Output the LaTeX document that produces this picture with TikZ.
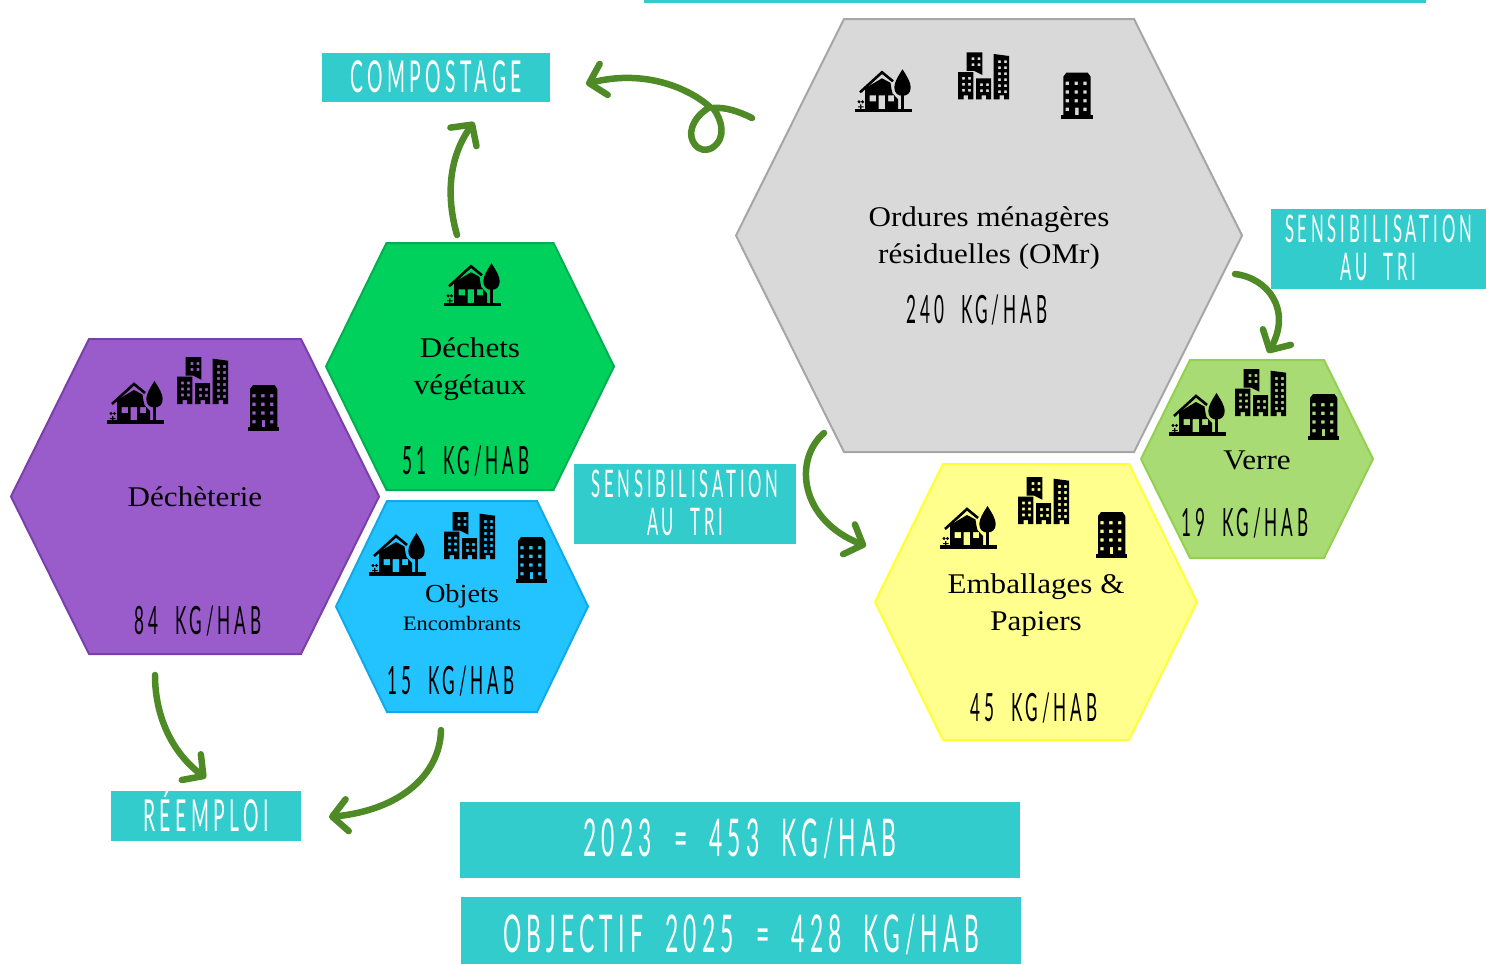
\documentclass[tikz,border=0pt]{standalone}
\usepackage{fontspec}
\setmainfont{Liberation Serif}[FakeStretch=1.09]
\newfontfamily\handfont[FakeStretch=0.44,LetterSpace=10,WordSpace=2]{Lato}
\usetikzlibrary{arrows.meta}
\definecolor{tealbox}{HTML}{33CCCC}
\definecolor{arrowgreen}{HTML}{4E8A26}
\newcommand{\lift}[2]{\raisebox{#1}[\height][\depth]{#2}}
% style, name, x, y, width, height, slant
\newcommand{\hexcell}[7]{
  \node[hexbase, minimum width=#5pt, minimum height=#6pt] at (#3,#4) (#2) {};
  \draw[#1] (#2.west) -- ([xshift=#7pt]#2.north west) -- ([xshift=-#7pt]#2.north east) -- (#2.east) -- ([xshift=-#7pt]#2.south east) -- ([xshift=#7pt]#2.south west) -- cycle;
}
\tikzset{
    hexbase/.style = {rectangle, inner sep=0pt, outer sep=0pt},
    hexcolor/.style = {line width=2pt, line join=miter},
    hexgrey/.style = {hexcolor, fill={rgb,255:red,217;green,217;blue,217}, draw={rgb,255:red,166;green,166;blue,166}},
    hexgreen/.style = {hexcolor, fill={rgb,255:red,0;green,208;blue,92}, draw={rgb,255:red,0;green,176;blue,80}},
    hexpurple/.style = {hexcolor, fill={rgb,255:red,155;green,92;blue,203}, draw={rgb,255:red,122;green,63;blue,168}},
    hexblue/.style = {hexcolor, fill={rgb,255:red,34;green,195;blue,255}, draw={rgb,255:red,16;green,170;blue,232}},
    hexyellow/.style = {hexcolor, fill={rgb,255:red,255;green,255;blue,141}, draw={rgb,255:red,255;green,255;blue,51}},
    hexlime/.style = {hexcolor, fill={rgb,255:red,169;green,219;blue,116}, draw={rgb,255:red,146;green,208;blue,80}},
    tealcell/.style = {rectangle, fill=tealbox, inner sep=0pt, align=center, text=white, font=\handfont\fontsize{38}{38}\selectfont},
    wastename/.style = {align=center, inner sep=0pt, font=\fontsize{28.5}{37.5}\selectfont},
    weight/.style = {inner sep=0pt, font=\handfont\fontsize{39}{40}\selectfont},
    edgegreen/.style = {line width=6.5pt, arrowgreen, line cap=round, line join=round, -{Straight Barb[length=15pt,width=32pt,line width=6.5pt,round]}},
    housepic/.pic = {
        \fill (0,-3.7) rectangle (57,0);
        \fill[even odd rule] (10,-3) -- (10,-24) -- (27,-34) -- (35.5,-29.5) -- (36.5,-23) -- (37.5,-19) -- (43,-13) -- (43,-3) -- cycle
            (14.5,-17) rectangle (21,-11) (23.5,-17) rectangle (30,-3) (33,-17) rectangle (39,-11);
        \draw[line width=2.6pt] (5,-20) -- (27,-40) -- (38,-31);
        \fill (47.5,-43) .. controls (43,-36) and (39.3,-30) .. (39.3,-25) .. controls (39.3,-19) and (43,-16.5) .. (47.5,-16.5) .. controls (52,-16.5) and (55.7,-19) .. (55.7,-25) .. controls (55.7,-30) and (52,-36) .. (47.5,-43) -- cycle;
        \fill (46,-17) rectangle (49,-3);
        \fill (4,-10.5) circle (1.7pt) (7.5,-10.5) circle (1.7pt) (5.2,-8) rectangle (6.3,-3) (3,-6) rectangle (8.5,-5);
    },
    citypic/.pic = {
        \fill[even odd rule] (0,-27.3) -- (15.3,-27.3) -- (15.3,0) -- (10,0) -- (10,-4) -- (5.5,-4) -- (5.5,0) -- (0,0) -- cycle
            \foreach \i in {0,1} \foreach \j in {0,1,2} {(4+6*\i,-22.5+6*\j) rectangle +(2.8,2.8)};
        \fill[even odd rule] (18,-21) -- (33,-21) -- (33,0) -- (28,0) -- (28,-4) -- (23.5,-4) -- (23.5,0) -- (18,0) -- cycle
            \foreach \i in {0,1} \foreach \j in {0,1} {(22+6*\i,-16+6*\j) rectangle +(2.8,2.8)};
        \fill[even odd rule] (35.7,-45.3) -- (51,-43.3) -- (51,0) -- (46,0) -- (46,-4) -- (41.5,-4) -- (41.5,0) -- (35.7,0) -- cycle
            \foreach \i in {0,1} \foreach \j in {0,...,5} {(40+6*\i,-39+6*\j) rectangle +(2.8,2.8)};
        \fill[even odd rule] (8.7,-47) -- (24.3,-47) -- (24.3,-24.3) -- (16,-28.5) -- (8.7,-28.5) -- cycle
            \foreach \i in {0,1} \foreach \j in {0,1} {(13.5+6*\i,-42+6*\j) rectangle +(2.8,2.8)};
    },
    blockpic/.pic = {
        \fill (0,-3.7) rectangle (31.3,0);
        \fill[even odd rule] (2,-3) -- (2,-42) -- (5,-46) -- (26.5,-46) -- (29.3,-42) -- (29.3,-3) -- cycle
            \foreach \i in {0,1,2} \foreach \j in {0,1,2} {(4.4+8.8*\i,-37+8.7*\j) rectangle +(3.3,3.3)}
            (4.4,-11) rectangle +(3.3,3.3) (22,-11) rectangle +(3.3,3.3) (13.9,-11) rectangle (17.2,-3);
    }
}

\begin{document}
\begin{tikzpicture}[x=1pt,y=-1pt]
\useasboundingbox (0,0) rectangle (1486,964);
%
\node[tealcell, minimum width=782pt, minimum height=3pt] at (1035,1.5) (topstrip) {};
%
\hexcell{hexgrey}{omr}{989}{235.5}{506}{433}{108}
\hexcell{hexgreen}{vert}{470}{366.5}{288}{247}{60.5}
\hexcell{hexpurple}{dech}{195}{496.5}{368}{315}{78}
\hexcell{hexblue}{objets}{462}{606.5}{252}{211}{51}
\hexcell{hexyellow}{emb}{1036}{602}{322}{276}{68}
\hexcell{hexlime}{verre}{1257}{459}{232}{198}{49}
%
\pic at (855,112.3) {housepic};
\pic at (958,99.3) {citypic};
\pic at (1061.3,118.7) {blockpic};
\pic at (444,306.3) {housepic};
\pic at (107,424) {housepic};
\pic at (177,404) {citypic};
\pic at (248,431) {blockpic};
\pic at (369,576) {housepic};
\pic at (444,559) {citypic};
\pic at (516,583) {blockpic};
\pic at (940,549) {housepic};
\pic at (1018,524) {citypic};
\pic at (1096,558) {blockpic};
\pic at (1169,436) {housepic};
\pic at (1235,416) {citypic};
\pic at (1308,440) {blockpic};
%
\node[wastename] at (989,238) (omrname) {Ordures ménagères\\résiduelles (OMr)};
\node[weight] at (977,310) (omrkg) {240 KG/HAB};
\node[wastename] at (470,369) (vertname) {Déchets\\végétaux};
\node[weight] at (466,461) (vertkg) {51 KG/HAB};
\node[wastename] at (195,497) (dechname) {Déchèterie};
\node[weight] at (198,621) (dechkg) {84 KG/HAB};
\node[wastename, font=\fontsize{26}{30}\selectfont] at (462,596) (objname) {Objets};
\node[wastename, font=\fontsize{20.5}{24}\selectfont] at (462,623) (objsub) {Encombrants};
\node[weight] at (451,681) (objkg) {15 KG/HAB};
\node[wastename] at (1036,605) (embname) {Emballages \&\\Papiers};
\node[weight] at (1034,708) (embkg) {45 KG/HAB};
\node[wastename] at (1257,460) (verrename) {Verre};
\node[weight] at (1245,523) (verrekg) {19 KG/HAB};
%
\node[tealcell, minimum width=228pt, minimum height=49pt, font=\handfont\fontsize{44}{44}\selectfont] at (436,77.5) (compost) {\lift{1pt}{COMPOSTAGE}};
\node[tealcell, minimum width=215pt, minimum height=80pt] at (1378.5,249) (sensiright) {\lift{1pt}{SENSIBILISATION}\\\lift{1pt}{AU TRI}};
\node[tealcell, minimum width=222pt, minimum height=80pt] at (685,504) (sensimid) {\lift{1pt}{SENSIBILISATION}\\\lift{1pt}{AU TRI}};
\node[tealcell, minimum width=190pt, minimum height=50pt, font=\handfont\fontsize{44}{44}\selectfont] at (206,816) (reemploi) {\lift{5pt}{RÉEMPLOI}};
\node[tealcell, minimum width=560pt, minimum height=76pt, font=\handfont\fontsize{52}{54}\selectfont] at (740,840) (total) {\lift{1pt}{2023 = 453 KG/HAB}};
\node[tealcell, minimum width=560pt, minimum height=67pt, font=\handfont\fontsize{52}{54}\selectfont] at (741,930.5) (goal) {\lift{-4pt}{OBJECTIF 2025 = 428 KG/HAB}};
%
\coordinate (loopa) at (752,118);
\coordinate (loopb) at (586,84);
\coordinate (verta) at (457,235);
\coordinate (vertb) at (474,122);
\coordinate (omra) at (824,433);
\coordinate (omrb) at (866,546);
\coordinate (sensia) at (1235,274);
\coordinate (sensib) at (1268,353);
\coordinate (decha) at (155,675);
\coordinate (dechb) at (206,778);
\coordinate (obja) at (441,730);
\coordinate (objb) at (329,817);
%
\draw[edgegreen] (loopa) .. controls (738,111) and (725,107) .. (713,108) .. controls (722,120) and (727,138) .. (712,148) .. controls (698,155) and (688,140) .. (692,128) .. controls (695,118) and (702,112) .. (710,107) .. controls (685,85) and (640,70) .. (loopb);
\draw[edgegreen] (verta) .. controls (447,200) and (447,160) .. (vertb);
\draw[edgegreen] (omra) .. controls (793,460) and (800,520) .. (omrb);
\draw[edgegreen] (sensia) .. controls (1268,278) and (1292,310) .. (sensib);
\draw[edgegreen] (decha) .. controls (155,720) and (175,755) .. (dechb);
\draw[edgegreen] (obja) .. controls (440,775) and (400,810) .. (objb);
\end{tikzpicture}
\end{document}
